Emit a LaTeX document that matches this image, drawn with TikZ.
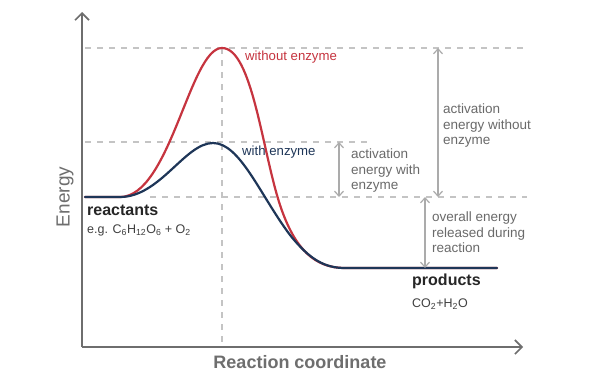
\documentclass[tikz,border=0pt]{standalone}
\usepackage{fontspec}
\setmainfont{Liberation Sans}
\usepackage{tikz}
\usetikzlibrary{positioning,arrows.meta}

\definecolor{nored}{HTML}{C6343F}
\definecolor{enzblue}{HTML}{1E3658}
\definecolor{axisgrey}{HTML}{6E6E6E}
\definecolor{guidegrey}{HTML}{C4C4C4}
\definecolor{gapgrey}{HTML}{ABABAB}
\definecolor{labelgrey}{HTML}{6A6A6A}

\begin{document}
\begin{tikzpicture}[x=1pt, y=-1pt,
	axis/.style={draw=axisgrey, line width=1.6pt, -{Straight Barb[length=7pt, width=14pt, line width=1.6pt]}},
	guide/.style={draw=guidegrey, line width=1.1pt, dash pattern=on 6pt off 6pt},
	gap/.style={draw=gapgrey, line width=1.2pt, {Straight Barb[length=5pt, width=9pt]}-{Straight Barb[length=5pt, width=9pt]}},
	note/.style={text=labelgrey, align=left, anchor=north west, inner sep=0pt, font=\fontsize{13.5}{15.5}\selectfont},
	curve/.style={line width=2.2pt, line cap=round}]
	\useasboundingbox (0,0) rectangle (615,380);
	\fill[white] (0,0) rectangle (615,380);

	% levels
	\coordinate (origin) at (82,347);
	\coordinate (ytip) at (82,12);
	\coordinate (xtip) at (523,347);
	\coordinate (peakred) at (222,48);
	\coordinate (peakblue) at (213,143);
	\coordinate (react) at (85,197);
	\coordinate (prod) at (345,268);

	% guide lines
	\draw[guide] (85,48) -- (527,48);
	\draw[guide] (85,142) -- (372,142);
	\draw[guide] (150,197) -- (527,197);
	\draw[guide] (peakred) -- (222,347);

	% axes
	\draw[axis] (origin) -- (ytip);
	\draw[axis] (origin) -- (xtip);

	% energy curves
	\draw[curve, nored] (react) -- (120,197) .. controls (170,197) and (190,48) .. (peakred)
		.. controls (252,48) and (262,150) .. (280,205)
		.. controls (295,250) and (315,268) .. (prod) -- (497,268);
	\draw[curve, enzblue] (react) -- (120,197) .. controls (160,197) and (185,143) .. (peakblue)
		.. controls (240,143) and (260,195) .. (290,235)
		.. controls (310,260) and (325,268) .. (prod) -- (497,268);

	% curve labels
	\node (without) [anchor=west, inner sep=0pt, text=nored, font=\fontsize{13.2}{15}\selectfont] at (245,57) {without enzyme};
	\node (with) [anchor=west, inner sep=0pt, text=enzblue, font=\fontsize{13.2}{15}\selectfont] at (242,152) {with enzyme};

	% energy differences
	\coordinate (withtop) at (339,142);
	\coordinate (withbot) at (339,197);
	\coordinate (wotop) at (438,48);
	\coordinate (wobot) at (438,197);
	\coordinate (reltop) at (425,197);
	\coordinate (relbot) at (425,268);
	\draw[gap] (withtop) -- (withbot);
	\draw[gap] (wotop) -- (wobot);
	\draw[gap] (reltop) -- (relbot);
	\node (withnote) [note] at (351,149) {activation\\energy with\\enzyme};
	\node (wonote) [note] at (443,104) {activation\\energy without\\enzyme};
	\node (relnote) [note] at (432,212) {overall energy\\released during\\reaction};

	% species
	\node (reactants) [anchor=north west, inner sep=0pt, text=black!85, font=\fontsize{16}{18}\selectfont\bfseries] at (87,205) {reactants};
	\node (reactex) [below=9pt of reactants.south west, anchor=north west, inner sep=0pt, text=black!75, font=\fontsize{12.5}{14}\selectfont] {e.g. C\textsubscript{6}H\textsubscript{12}O\textsubscript{6} + O\textsubscript{2}};
	\node (products) [anchor=north west, inner sep=0pt, text=black!85, font=\fontsize{16}{18}\selectfont\bfseries] at (412,274) {products};
	\node (prodex) [below=9pt of products.south west, anchor=north west, inner sep=0pt, text=black!75, font=\fontsize{12.5}{14}\selectfont] {CO\textsubscript{2}+H\textsubscript{2}O};

	% axis titles
	\node (ylabel) [rotate=90, text=axisgrey, font=\fontsize{19}{21}\selectfont] at (65,197) {Energy};
	\node (xlabel) [text=axisgrey, font=\fontsize{18}{20}\selectfont\bfseries] at (300,362) {Reaction coordinate};
\end{tikzpicture}
\end{document}
